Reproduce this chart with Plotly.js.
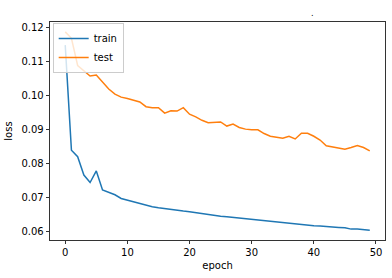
<!DOCTYPE html>
<html>
<head>
<meta charset="utf-8">
<script src="https://cdn.plot.ly/plotly-3.0.1.min.js"></script>
<style>html,body{margin:0;padding:0;background:#fff;}#chart{width:392px;height:278px;}</style>
</head>
<body>
<div id="chart"></div>
<script>
const epochs = Array.from({length: 50}, (_, i) => i);
const trainLoss = [
  0.1147, 0.0838, 0.0819, 0.0765, 0.0743, 0.0777, 0.0721, 0.0713, 0.0707, 0.0696,
  0.0691, 0.0687, 0.0682, 0.0675, 0.0672, 0.0669, 0.0666, 0.0663, 0.0660, 0.0659,
  0.0657, 0.0654, 0.0651, 0.0649, 0.0647, 0.0644, 0.0642, 0.0640, 0.0638, 0.0636,
  0.0634, 0.0633, 0.0631, 0.0629, 0.0628, 0.0626, 0.0624, 0.0622, 0.0620, 0.0618,
  0.0616, 0.0615, 0.0613, 0.0612, 0.0611, 0.0610, 0.0606, 0.0606, 0.0605, 0.0603
];
const testLoss = [
  0.1186, 0.1167, 0.1087, 0.1071, 0.1056, 0.1059, 0.1039, 0.1018, 0.1003, 0.0994,
  0.0990, 0.0985, 0.0980, 0.0966, 0.0963, 0.0963, 0.0947, 0.0954, 0.0953, 0.0963,
  0.0944, 0.0936, 0.0926, 0.0919, 0.0921, 0.0921, 0.0909, 0.0915, 0.0905, 0.0900,
  0.0898, 0.0898, 0.0887, 0.0879, 0.0876, 0.0873, 0.0879, 0.0871, 0.0888, 0.0888,
  0.0879, 0.0868, 0.0851, 0.0847, 0.0845, 0.0841, 0.0846, 0.0852, 0.0846, 0.0836
];
const seriesNames = ['train', 'test'];
const yTicks = [0.06, 0.07, 0.08, 0.09, 0.10, 0.11, 0.12];
const xTicks = [0, 10, 20, 30, 40, 50];

const font = {family: 'DejaVu Sans', size: 10, color: '#000'};
const traces = [
  {x: epochs, y: trainLoss, name: seriesNames[0], type: 'scatter', mode: 'lines',
   line: {color: '#1f77b4', width: 1.5}},
  {x: epochs, y: testLoss, name: seriesNames[1], type: 'scatter', mode: 'lines',
   line: {color: '#ff7f0e', width: 1.5}}
];
const axisCommon = {
  showline: true, mirror: true, linecolor: '#000', linewidth: 0.8,
  ticks: 'outside', ticklen: 3.5, tickwidth: 0.8, tickcolor: '#000',
  showgrid: false, zeroline: false, tickfont: font
};
const layout = {
  width: 392, height: 278,
  margin: {l: 50, r: 7, t: 22, b: 38},
  paper_bgcolor: '#fff', plot_bgcolor: '#fff',
  font: font,
  showlegend: true,
  legend: {x: 0.008, y: 0.995, xanchor: 'left', yanchor: 'top',
    bgcolor: 'rgba(255,255,255,0.8)', bordercolor: '#cccccc', borderwidth: 1,
    font: font, tracegroupgap: 0, itemwidth: 30},
  xaxis: Object.assign({}, axisCommon, {
    range: [-2.45, 51.45], tickvals: xTicks, ticktext: xTicks.map(String),
    title: {text: 'epoch', font: font, standoff: 4}
  }),
  yaxis: Object.assign({}, axisCommon, {
    range: [0.0574, 0.1215], tickvals: yTicks, ticktext: yTicks.map(v => v.toFixed(2)),
    title: {text: 'loss', font: font, standoff: 6}
  }),
  annotations: [{text: '.', xref: 'paper', yref: 'paper', x: 0.785, y: 1.008,
    xanchor: 'center', yanchor: 'bottom', showarrow: false, font: {family: 'DejaVu Sans', size: 8, color: '#000'}}]
};
Plotly.newPlot('chart', traces, layout, {staticPlot: true, displayModeBar: false});
</script>
</body>
</html>
